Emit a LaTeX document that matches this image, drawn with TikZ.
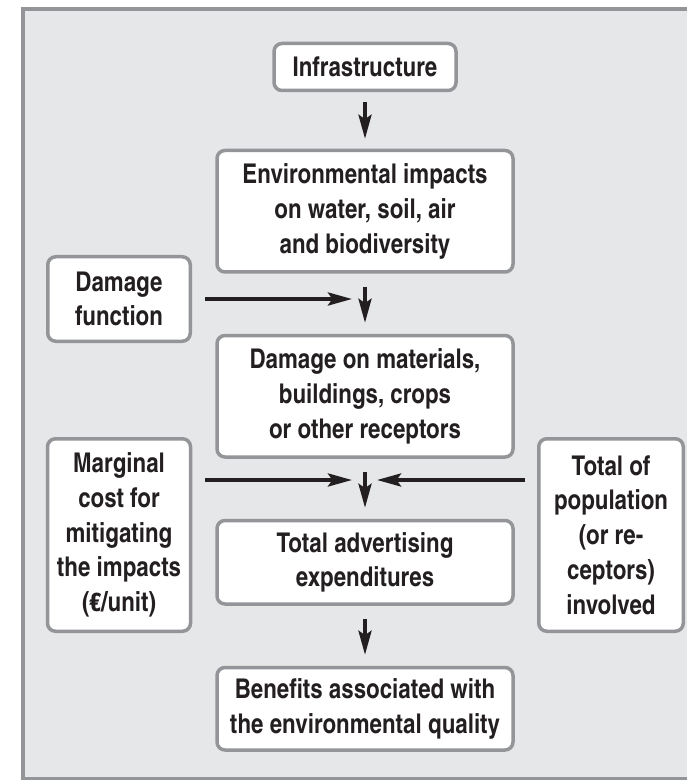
\documentclass[tikz,border=0pt]{standalone}
\usepackage{fontspec}
\setmainfont{texgyreheroscn}[Extension=.otf, UprightFont=*-regular, BoldFont=*-bold, ItalicFont=*-italic, BoldItalicFont=*-bolditalic]
\usetikzlibrary{arrows.meta,positioning}
\definecolor{Ink}{HTML}{231F20}
\definecolor{Frame}{HTML}{939598}
\definecolor{Panel}{HTML}{E6E7E8}
\tikzset{
 block/.style={draw=Frame, line width=1.75pt, rounded corners=4pt, fill=white, align=center, inner sep=0pt, font=\fontsize{13.6}{17.4}\selectfont\bfseries, text=Ink},
 midblock/.style={block, minimum width=148pt},
 sideblock/.style={block, minimum width=71.5pt, minimum height=96.25pt},
 arrow/.style={-{Stealth[length=12pt,width=6.5pt,inset=2.2pt]}, line width=1.9pt, draw=Ink, shorten <=6.5pt, shorten >=5.5pt}
}

\begin{document}
\begin{tikzpicture}[x=0.5pt, y=-0.5pt, node distance=30pt]
\useasboundingbox (0,0) rectangle (686,780);
\draw[draw=Frame, fill=Panel, line width=2pt] (23,9.5) rectangle (720,779);

\node[block, minimum width=91pt, minimum height=23.5pt] (infra) at (365,67) {Infrastructure};
\node[midblock, minimum height=60.75pt, below=28.25pt of infra] (env) {Environmental impacts\\on water, soil, air\\and biodiversity};
\node[midblock, minimum height=60.75pt, below=of env] (dmg) {Damage on materials,\\buildings, crops\\or other receptors};
\node[midblock, minimum height=41.75pt, below=of dmg] (adv) {Total advertising\\expenditures};
\node[midblock, minimum height=41.25pt, below=of adv] (ben) {Benefits associated with\\the environmental quality};

\node[block, minimum width=71.25pt, minimum height=42.25pt] (dmgfn) at (119,299) {Damage\\function};
\node[sideblock] (marg) at (119,535) {Marginal\\cost for\\mitigating\\the impacts\\(€/unit)};
\node[sideblock, minimum width=72.25pt] (pop) at (611,535) {Total of\\population\\(or re-\\ceptors)\\involved};

\coordinate (fnend) at (352,299);
\coordinate (margend) at (352,480);
\coordinate (popend) at (377,480);

% main flow
\draw[arrow, shorten <=5pt, shorten >=5pt] (infra) -- (env);
\draw[arrow] (env) -- (dmg);
\draw[arrow] (dmg) -- (adv);
\draw[arrow] (adv) -- (ben);

% side inputs
\draw[arrow, shorten >=0pt] (dmgfn) -- (fnend);
\draw[arrow, shorten >=0pt] (marg.east |- margend) -- (margend);
\draw[arrow, shorten <=6pt, shorten >=0pt] (pop.west |- popend) -- (popend);
\end{tikzpicture}
\end{document}
